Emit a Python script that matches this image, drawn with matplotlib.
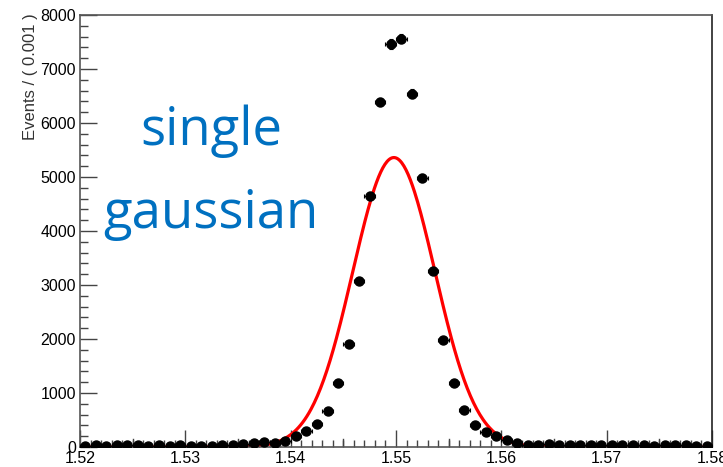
import numpy as np
import matplotlib.pyplot as plt

# data (bin width 0.001)
bin_centers = np.round(np.arange(1.5205, 1.58, 0.001), 4)
events = [25, 35, 10, 35, 30, 35, 25, 30, 25, 30,
          20, 25, 25, 30, 40, 55, 70, 90, 65, 120,
          195, 290, 430, 665, 1185, 1905, 3075, 4650, 6390, 7460,
          7560, 6540, 4985, 3255, 1985, 1180, 690, 415, 280, 195,
          125, 80, 45, 30, 55, 45, 45, 45, 30, 30,
          35, 30, 30, 30, 20, 30, 30, 30, 20, 20]

# single gaussian fit parameters
fit_amp = 5360
fit_mean = 1.5498
fit_sigma = 0.0039

events = np.array(events, dtype=float)

plt.rcParams['font.family'] = ['Liberation Sans', 'DejaVu Sans']

fig = plt.figure(figsize=(7.23, 4.67), dpi=100)
ax = fig.add_axes([80/723, 1-447/467, 632/723, 432/467])

ax.errorbar(bin_centers, events, xerr=0.0005, yerr=np.sqrt(events), fmt='o',
            color='black', ms=6.5, elinewidth=0.8, capsize=1.5, capthick=0.8, zorder=3)

xf = np.linspace(1.52, 1.58, 600)
yf = fit_amp*np.exp(-0.5*((xf-fit_mean)/fit_sigma)**2)
ax.plot(xf, yf, color='red', lw=2.3, zorder=2)

ax.set_xlim(1.52, 1.58)
ax.set_ylim(0, 8000)
ax.set_xticks(np.arange(1.52, 1.581, 0.01))
ax.set_xticklabels(['1.52', '1.53', '1.54', '1.55', '1.56', '1.57', '1.58'])
ax.set_xticks(np.arange(1.52, 1.58, 0.001), minor=True)
ax.set_yticks(np.arange(0, 8001, 1000))
ax.set_yticks(np.arange(0, 8000, 200), minor=True)
ax.tick_params(which='major', direction='in', length=12, width=1, color='#444444', labelsize=11.5, pad=3)
ax.tick_params(which='minor', direction='in', length=6, width=1, color='#444444')
ax.tick_params(axis='x', which='minor', length=5)
for s in ax.spines.values():
    s.set_color('#555555')
    s.set_linewidth(1.2)
ax.spines['right'].set_color('#222222')

# medium ticks at the half divisions of x
for xm in np.arange(1.525, 1.58, 0.01):
    ax.plot([xm, xm], [0, 150], color='#444444', lw=1, zorder=1)

fig.text(30/723, 1-13/467, 'Events / ( 0.001 )', rotation=90, ha='center', va='top',
         fontsize=12, color='#333333')

fig.text(211/723, 1-145/467, 'single', ha='center', va='baseline',
         fontsize=38, color='#0070C0', family=['Open Sans', 'DejaVu Sans'])
fig.text(211/723, 1-228/467, 'gaussian', ha='center', va='baseline',
         fontsize=38, color='#0070C0', family=['Open Sans', 'DejaVu Sans'])

fig.savefig('out.png', dpi=100)
